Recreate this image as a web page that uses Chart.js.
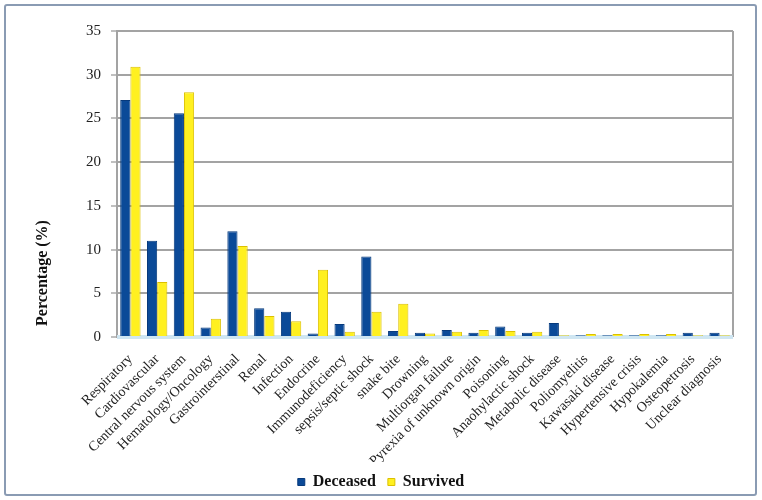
<!DOCTYPE html>
<html>
<head>
<meta charset="utf-8">
<script src="https://cdn.jsdelivr.net/npm/chart.js@4"></script>
<style>
  html, body { margin: 0; padding: 0; background: #fff; }
  #wrap { position: relative; width: 762px; height: 500px; }
  #frame {
    position: absolute; left: 4px; top: 4px; right: 5px; bottom: 4px;
    border: 2px solid #8a9bb3; border-radius: 3px; pointer-events: none;
  }
</style>
</head>
<body>
<div id="wrap">
  <canvas id="causeChart" width="762" height="500"></canvas>
  <div id="frame"></div>
</div>
<script>
const causes = [
  "Respiratory", "Cardiovascular", "Central nervous system", "Hematology/Oncology",
  "Gastrointerstinal", "Renal", "Infection", "Endocrine", "Immunodeficiency",
  "sepsis/septic shock", "snake bite", "Drowning", "Multiorgan failure",
  "Pyrexia of unknown origin", "Poisoning", "Anaohylactic shock", "Metabolic disease",
  "Poliomyelitis", "Kawasaki disease", "Hypertensive crisis", "Hypokalemia",
  "Osteopetrosis", "Unclear diagnosis"
];
const deceased = [27.1, 11.0, 25.6, 1.1, 12.1, 3.3, 2.9, 0.4, 1.5, 9.2, 0.7, 0.5, 0.8, 0.5, 1.2, 0.5, 1.6, 0.2, 0.2, 0.2, 0.2, 0.5, 0.5];
const survived = [30.9, 6.3, 28.0, 2.1, 10.4, 2.4, 1.8, 7.7, 0.6, 2.9, 3.8, 0.4, 0.6, 0.8, 0.7, 0.6, 0.2, 0.35, 0.35, 0.35, 0.35, 0.2, 0.2];
const yTicks = [0, 5, 10, 15, 20, 25, 30, 35];

const serif = "'Liberation Serif', 'DejaVu Serif', serif";

// y title sits low on the left, not centred on the axis
const sideTitle = {
  id: "sideTitle",
  afterDraw(chart) {
    const ctx = chart.ctx;
    ctx.save();
    ctx.translate(43, 273);
    ctx.rotate(-Math.PI / 2);
    ctx.font = "bold 16px " + serif;
    ctx.fillStyle = "#111";
    ctx.textAlign = "center";
    ctx.textBaseline = "middle";
    ctx.fillText("Percentage (%)", 0, 0);
    ctx.restore();
  },
  beforeDatasetsDraw(chart) {
    const { ctx, chartArea: a } = chart;
    ctx.save();
    ctx.strokeStyle = "#a3a3a3";
    ctx.lineWidth = 2;
    ctx.beginPath();
    ctx.moveTo(a.right, a.top);
    ctx.lineTo(a.right, a.bottom);
    ctx.stroke();
    // light floor
    ctx.fillStyle = "#cfe6f2";
    ctx.fillRect(a.left, a.bottom - 2, a.right - a.left, 4);
    ctx.restore();
  }
};

new Chart(document.getElementById("causeChart").getContext("2d"), {
  type: "bar",
  data: {
    labels: causes,
    datasets: [
      {
        label: "Deceased",
        data: deceased,
        backgroundColor: "#0b4a98",
        borderColor: "#073a7c",
        borderWidth: 1,
        categoryPercentage: 0.76,
        barPercentage: 1.0
      },
      {
        label: "Survived",
        data: survived,
        backgroundColor: "#fff020",
        borderColor: "#dcc000",
        borderWidth: 1,
        categoryPercentage: 0.76,
        barPercentage: 1.0
      }
    ]
  },
  options: {
    responsive: false,
    animation: false,
    layout: { padding: { left: 29, right: 29, top: 31, bottom: 0 } },
    plugins: {
      tooltip: { enabled: false },
      legend: {
        position: "bottom",
        labels: {
          boxWidth: 7,
          boxHeight: 7,
          padding: 12,
          color: "#111",
          font: { family: serif, size: 16, weight: "bold" }
        }
      }
    },
    scales: {
      x: {
        grid: { display: false },
        border: { display: false },
        ticks: {
          autoSkip: false,
          maxRotation: 45,
          minRotation: 45,
          padding: 6,
          color: "#222",
          font: { family: serif, size: 14 }
        },
        afterFit(scale) { scale.height = 125; }
      },
      y: {
        min: 0,
        max: 35,
        afterBuildTicks(scale) { scale.ticks = yTicks.map(v => ({ value: v })); },
        grid: { color: "#a3a3a3", lineWidth: 2, tickLength: 6, tickColor: "#c0c0c0" },
        border: { display: true, color: "#a3a3a3", width: 2 },
        ticks: {
          padding: 10,
          color: "#222",
          font: { family: serif, size: 15 }
        },
        afterFit(scale) { scale.width = 88; }
      }
    }
  },
  plugins: [sideTitle]
});
</script>
</body>
</html>
